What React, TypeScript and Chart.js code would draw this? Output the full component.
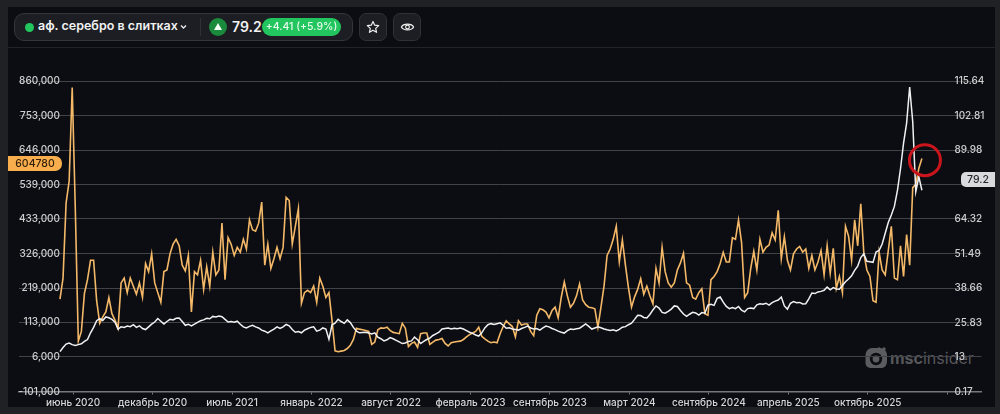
import { useEffect, useRef } from "react";
import { Chart, registerables } from "chart.js";

Chart.register(...registerables);

// weekly values, first point is a few weeks before the "июнь 2020" tick
const openInterestK = [
  185, 250, 482, 550, 840, 470, 55, 85, 203, 245, 305, 305, 180, 110, 130, 145, 190, 140, 120, 95,
  235, 250, 205, 250, 225, 200, 235, 190, 295, 270, 325, 235, 205, 175, 270, 275, 325, 355, 370, 350,
  290, 272, 320, 145, 270, 260, 305, 215, 285, 225, 330, 260, 275, 420, 245, 375, 355, 320, 345, 330,
  370, 340, 430, 400, 395, 420, 485, 290, 355, 280, 310, 345, 310, 345, 500, 490, 355, 410, 465, 172,
  205, 212, 205, 225, 175, 250, 225, 190, 205, 120, 25, 22, 24, 26, 32, 42, 60, 95, 92, 90,
  88, 85, 45, 52, 90, 96, 95, 98, 88, 82, 80, 78, 110, 95, 38, 48, 52, 36, 78, 80,
  80, 45, 52, 58, 60, 63, 48, 40, 50, 52, 54, 55, 60, 68, 75, 80, 85, 98, 70, 62,
  55, 50, 52, 50, 78, 100, 118, 108, 100, 68, 118, 105, 108, 108, 85, 72, 135, 155, 152, 145,
  127, 150, 160, 127, 190, 238, 195, 160, 172, 195, 232, 182, 168, 160, 158, 155, 98, 160, 225, 320,
  340, 370, 410, 300, 368, 290, 220, 160, 192, 215, 248, 200, 225, 195, 170, 280, 235, 345, 270, 235,
  222, 235, 275, 297, 327, 235, 228, 190, 185, 205, 217, 140, 135, 245, 255, 270, 295, 330, 300, 300,
  375, 370, 430, 360, 190, 205, 280, 333, 275, 370, 330, 345, 352, 390, 368, 460, 310, 378, 305, 275,
  325, 340, 348, 330, 340, 280, 320, 275, 300, 335, 260, 350, 265, 342, 218, 255, 205, 410, 380, 305,
  430, 350, 480, 327, 275, 255, 180, 175, 330, 275, 260, 335, 410, 250, 245, 350, 255, 385, 290, 530,
  540, 590, 620,
];

const silverPrice = [
  15.0, 16.5, 17.8, 18.2, 17.6, 17.3, 17.6, 17.9, 18.8, 19.5, 22.0, 24.0, 26.5, 27.3, 26.6, 27.9, 27.6, 27.0, 25.9, 23.4,
  24.2, 24.0, 24.5, 24.3, 25.0, 24.0, 24.6, 23.6, 23.2, 24.2, 25.2, 26.0, 27.3, 26.3, 25.3, 26.2, 27.0, 26.8, 27.4, 27.5,
  26.2, 24.8, 25.2, 24.6, 25.2, 25.9, 26.5, 26.8, 27.4, 27.2, 28.1, 27.9, 28.2, 28.0, 27.0, 26.0, 26.2, 25.9, 26.3, 25.2,
  24.2, 23.8, 24.4, 24.8, 24.2, 23.8, 23.0, 22.6, 22.0, 22.7, 23.4, 24.2, 23.6, 24.2, 25.1, 24.6, 23.2, 22.2, 22.5, 22.0,
  23.0, 23.5, 24.0, 24.2, 22.6, 23.0, 23.8, 23.4, 19.6, 25.0, 25.6, 27.0, 26.2, 25.5, 26.8, 25.8, 24.0, 22.6, 22.0, 22.1,
  22.2, 21.9, 21.6, 22.0, 20.4, 19.8, 19.0, 19.4, 20.2, 19.8, 19.2, 18.6, 18.0, 18.2, 18.8, 19.0, 20.4, 19.4, 18.0, 18.8,
  19.5, 20.0, 21.0, 21.6, 22.2, 23.4, 23.6, 23.8, 23.4, 23.7, 23.5, 23.8, 23.4, 22.8, 22.2, 21.8, 21.2, 20.8, 22.0, 23.8,
  25.0, 25.4, 25.1, 25.4, 25.7, 24.8, 23.7, 23.9, 23.4, 23.2, 23.0, 23.6, 24.0, 24.5, 23.8, 23.4, 23.6, 23.0, 23.8, 24.5,
  24.2, 23.6, 23.2, 22.6, 22.2, 21.9, 22.8, 23.4, 23.2, 23.5, 23.7, 24.5, 25.3, 24.4, 23.4, 23.8, 24.2, 23.9, 23.4, 23.1,
  22.9, 23.1, 22.7, 23.3, 24.1, 24.3, 25.0, 25.6, 27.0, 28.5, 28.4, 27.7, 27.5, 28.8, 30.5, 32.0, 31.2, 29.6, 29.3, 30.0,
  30.8, 32.0, 31.8, 30.3, 29.0, 28.1, 28.9, 29.6, 29.4, 28.6, 29.5, 29.3, 32.3, 32.6, 32.2, 34.8, 35.3, 33.4, 31.8, 31.0,
  31.4, 31.0, 31.8, 30.4, 29.8, 31.0, 31.2, 31.0, 32.4, 32.8, 32.6, 33.0, 32.3, 33.2, 33.8, 34.2, 35.3, 32.0, 30.8, 33.0,
  33.6, 33.2, 33.3, 32.7, 32.8, 34.6, 36.8, 36.6, 37.2, 37.4, 37.8, 39.0, 38.0, 38.8, 38.3, 38.2, 39.6, 41.0, 42.0, 43.2,
  45.2, 46.8, 50.0, 51.4, 48.6, 48.4, 48.2, 52.0, 52.6, 55.0, 59.0, 63.0, 65.8, 69.0, 75.0, 83.0, 92.5, 100.0, 113.4, 100.5,
  74.5, 80.0, 75.0,
];

const monthLabels = [
  "июнь 2020", "декабрь 2020", "июль 2021", "январь 2022", "август 2022", "февраль 2023",
  "сентябрь 2023", "март 2024", "сентябрь 2024", "апрель 2025", "октябрь 2025", "",
];
const monthTicks = [4.3, 30.3, 56.3, 82.3, 108.3, 134.3, 160.3, 186.3, 212.3, 238.3, 264.3, 290.3];
const leftTicks = [860000, 753000, 646000, 539000, 433000, 326000, 219000, 113000, 6000, -101000];
const rightTicks = [115.64, 102.81, 89.98, 77.15, 64.32, 51.49, 38.66, 25.83, 13, 0.17];
const rightLabels = ["115.64", "102.81", "89.98", "", "64.32", "51.49", "38.66", "25.83", "13", "0.17"];
// the red ring drawn over the last weeks
const ringWeek = 283;
const ringValue = 615000;

const FONT = "Inter, 'Noto Sans', sans-serif";

function Header() {
  const btn: React.CSSProperties = {
    position: "absolute", top: 13, width: 28, height: 28, boxSizing: "border-box",
    background: "#1c1e23", border: "1px solid #2f3136", borderRadius: 7,
    display: "flex", alignItems: "center", justifyContent: "center",
  };
  return (
    <>
      <div style={{ position: "absolute", left: 14, top: 13, width: 339, height: 28, boxSizing: "border-box", background: "#1c1e23", border: "1px solid #34363b", borderRadius: 10 }} />
      <div style={{ position: "absolute", left: 25, top: 23, width: 9, height: 9, borderRadius: "50%", background: "#22c55e" }} />
      <div style={{ position: "absolute", left: 38, top: 18, height: 18, lineHeight: "18px", font: `600 12.5px ${FONT}`, color: "#f2f2f2", whiteSpace: "nowrap" }}>аф. серебро в слитках</div>
      <svg style={{ position: "absolute", left: 180, top: 24 }} width="7" height="6" viewBox="0 0 7 6">
        <path d="M1 1.5 L3.5 4 L6 1.5" fill="none" stroke="#e8e8e8" strokeWidth="1.4" />
      </svg>
      <div style={{ position: "absolute", left: 200, top: 18, width: 1, height: 18, background: "#2f3136" }} />
      <div style={{ position: "absolute", left: 209, top: 18, width: 18, height: 18, borderRadius: "50%", background: "#1a8a3c" }} />
      <svg style={{ position: "absolute", left: 214, top: 23 }} width="8" height="7" viewBox="0 0 8 7">
        <path d="M4 0 L8 7 L0 7 Z" fill="#f2fff5" />
      </svg>
      <div style={{ position: "absolute", left: 232, top: 18, lineHeight: "18px", font: `600 14px ${FONT}`, color: "#f2f2f2" }}>79.2</div>
      <div style={{ position: "absolute", left: 262, top: 18, width: 79, height: 18, borderRadius: 9, background: "#22c55e", color: "#e6fbec", textAlign: "center", font: `500 10.5px/18px ${FONT}` }}>+4.41 (+5.9%)</div>
      <div style={{ ...btn, left: 359 }}>
        <svg width="14" height="14" viewBox="0 0 24 24">
          <path d="M12 2.5 L14.9 8.9 L21.8 9.6 L16.6 14.3 L18.1 21.2 L12 17.6 L5.9 21.2 L7.4 14.3 L2.2 9.6 L9.1 8.9 Z" fill="none" stroke="#f2f2f2" strokeWidth="2" strokeLinejoin="round" />
        </svg>
      </div>
      <div style={{ ...btn, left: 393 }}>
        <svg width="15" height="14" viewBox="0 0 24 24">
          <path d="M1.5 12 C5 5.5 19 5.5 22.5 12 C19 18.5 5 18.5 1.5 12 Z" fill="none" stroke="#f2f2f2" strokeWidth="2" />
          <circle cx="12" cy="12" r="3.2" fill="none" stroke="#f2f2f2" strokeWidth="2" />
        </svg>
      </div>
    </>
  );
}

function Watermark() {
  return (
    <>
      <svg style={{ position: "absolute", left: 865, top: 347 }} width="23" height="22" viewBox="0 0 23 22">
        <path d="M5 4 H11 A8 8 0 1 1 4 16 V18 A3 3 0 0 0 7 21 H15 A7 7 0 0 0 22 14 V8 A7 7 0 0 0 15 1 H7 A6 6 0 0 0 1 7 V14 A3 3 0 0 0 3 16 Z" fill="#5b5c60" />
        <rect x="0.5" y="3" width="21" height="18" rx="5" fill="#5b5c60" />
        <circle cx="11" cy="12" r="6.2" fill="#0c0d12" />
        <circle cx="11" cy="12" r="3.4" fill="#5b5c60" />
        <circle cx="14" cy="2" r="1.7" fill="#5b5c60" />
        <circle cx="19" cy="2" r="1.7" fill="#5b5c60" />
      </svg>
      <div style={{ position: "absolute", left: 890, top: 347, lineHeight: "22px", font: `16px/22px ${FONT}`, color: "#56575b", whiteSpace: "nowrap" }}>
        <b>msc</b>insider
      </div>
    </>
  );
}

export default function App() {
  const canvasRef = useRef<HTMLCanvasElement>(null);

  useEffect(() => {
    document.body.style.margin = "0";
    if (!canvasRef.current) return;

    const chart = new Chart(canvasRef.current, {
      data: {
        datasets: [
          {
            type: "scatter",
            data: [{ x: ringWeek, y: ringValue }],
            yAxisID: "y",
            pointRadius: 15.5,
            pointBorderWidth: 3,
            pointBorderColor: "#c9151b",
            pointBackgroundColor: "transparent",
            order: 0,
            clip: false,
          },
          {
            type: "line",
            data: silverPrice.map((v, i) => ({ x: i, y: v })),
            yAxisID: "y1",
            borderColor: "#f1f1f4",
            borderWidth: 1.5,
            pointRadius: 0,
            tension: 0,
            order: 1,
          },
          {
            type: "line",
            data: openInterestK.map((v, i) => ({ x: i, y: v * 1000 })),
            yAxisID: "y",
            borderColor: "#f4b968",
            borderWidth: 1.6,
            pointRadius: 0,
            tension: 0,
            order: 2,
          },
        ],
      },
      options: {
        responsive: false,
        animation: false,
        layout: { padding: { left: 8, right: 5, top: 81, bottom: 0 } },
        plugins: { legend: { display: false }, tooltip: { enabled: false } },
        scales: {
          x: {
            type: "linear",
            min: -13.57,
            max: 301.5,
            afterBuildTicks: (s) => {
              s.ticks = monthTicks.map((value) => ({ value }));
            },
            afterFit: (s) => {
              s.height = 22.5;
            },
            border: { display: true, color: "#77787c", width: 1.5 },
            grid: { drawOnChartArea: false, drawTicks: true, tickLength: 3, color: "#77787c" },
            ticks: {
              autoSkip: false,
              maxRotation: 0,
              padding: 2,
              color: "#d6d6d8",
              font: { family: FONT, size: 10, weight: 500 },
              callback: (_v, i) => monthLabels[i],
            },
          },
          y: {
            position: "left",
            min: -101000,
            max: 860000,
            afterBuildTicks: (s) => {
              s.ticks = leftTicks.map((value) => ({ value }));
            },
            afterFit: (s) => {
              s.width = 0;
            },
            border: { display: false },
            grid: { color: "#414347", lineWidth: 1, drawTicks: false },
            ticks: {
              mirror: true,
              crossAlign: "end",
              padding: 0,
              color: "#cfcfd2",
              font: { family: FONT, size: 10, weight: 500 },
              callback: (v) => Number(v).toLocaleString("en-US"),
            },
          },
          y1: {
            position: "right",
            min: 0.17,
            max: 115.64,
            afterBuildTicks: (s) => {
              s.ticks = rightTicks.map((value) => ({ value }));
            },
            afterFit: (s) => {
              s.width = 0;
            },
            border: { display: false },
            grid: { display: false, drawTicks: false },
            ticks: {
              mirror: true,
              crossAlign: "end",
              padding: 3,
              color: "#cfcfd2",
              font: { family: FONT, size: 10, weight: 500 },
              callback: (_v, i) => rightLabels[i],
            },
          },
        },
      },
    });

    return () => chart.destroy();
  }, []);

  return (
    <div style={{ position: "relative", width: 1000, height: 414, background: "#202125", overflow: "hidden", fontFamily: FONT }}>
      <div style={{ position: "absolute", left: 8, top: 7, width: 987, height: 400, background: "#0c0d12" }} />
      <div style={{ position: "absolute", left: 8, top: 47, width: 987, height: 1, background: "#222328" }} />
      <Watermark />
      <canvas ref={canvasRef} width={1000} height={414} style={{ position: "absolute", left: 0, top: 0, width: 1000, height: 414 }} />
      <Header />
      <div style={{ position: "absolute", left: 8, top: 156, width: 54, height: 15, background: "#f9ae4e", borderRadius: "0 7px 7px 0", color: "#33200a", textAlign: "center", font: `500 10.5px/15px ${FONT}` }}>604780</div>
      <div style={{ position: "absolute", left: 961, top: 172, width: 34, height: 15, background: "#d9dadc", borderRadius: "5px 0 0 5px", color: "#26272b", textAlign: "center", font: `500 10.5px/15px ${FONT}` }}>79.2</div>
    </div>
  );
}
